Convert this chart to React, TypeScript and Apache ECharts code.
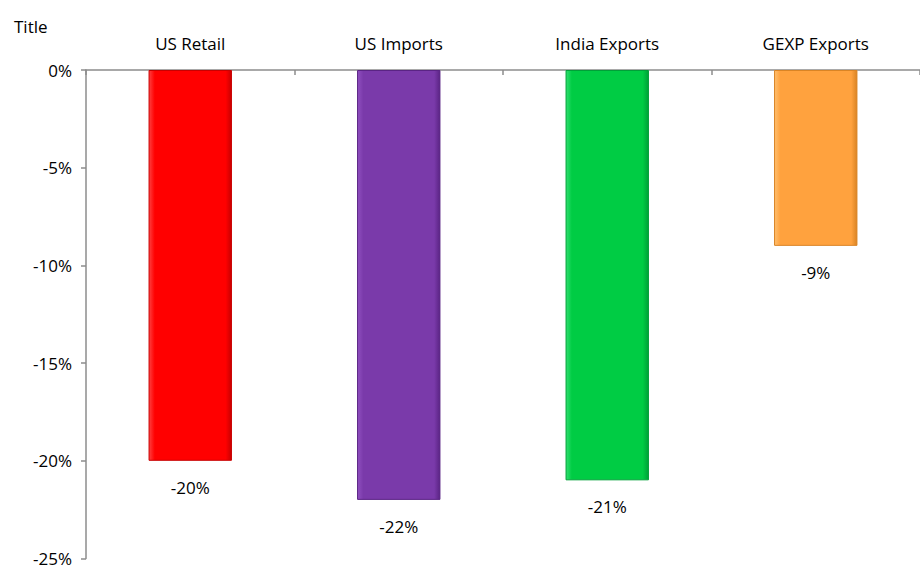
import React, { useEffect, useRef } from "react";
import * as echarts from "echarts";

const categories = ["US Retail", "US Imports", "India Exports", "GEXP Exports"];
const values = [-20, -22, -21, -9];
const barColors = [
  ["#FF4040", "#FF0000", "#C80000"],
  ["#9050C0", "#7A3AAA", "#5A2484"],
  ["#30E070", "#00CC44", "#00A038"],
  ["#FFC070", "#FFA23E", "#DA8424"],
];
const yMin = -25;
const yMax = 0;
const yStep = 5;

const FONT = "'Open Sans', 'Noto Sans', sans-serif";
const FS = 17;

export default function App() {
  const ref = useRef<HTMLDivElement>(null);
  useEffect(() => {
    if (!ref.current) return;
    const chart = echarts.init(ref.current, undefined, { renderer: "svg" });
    chart.setOption({
      animation: false,
      title: {
        text: "Title",
        left: 9,
        top: 13,
        textStyle: { fontFamily: FONT, fontSize: FS, fontWeight: "normal", color: "#000" },
      },
      grid: { left: 86, right: -7, top: 70, bottom: 6, containLabel: false },
      xAxis: {
        type: "category",
        position: "top",
        data: categories,
        axisLine: { onZero: false, lineStyle: { color: "#8C8C8C", width: 1.5 } },
        axisTick: { show: true, inside: true, length: 5, lineStyle: { color: "#8C8C8C", width: 1.5 } },
        axisLabel: { margin: 18, color: "#000", fontFamily: FONT, fontSize: FS },
      },
      yAxis: {
        type: "value",
        min: yMin,
        max: yMax,
        interval: yStep,
        splitLine: { show: false },
        axisLine: { show: true, lineStyle: { color: "#8C8C8C", width: 1.5 } },
        axisTick: { show: true, length: 5, lineStyle: { color: "#8C8C8C", width: 1.5 } },
        axisLabel: {
          margin: 14,
          color: "#000",
          fontFamily: FONT,
          fontSize: FS,
          formatter: (v: number) => `${v}%`,
        },
      },
      series: [
        {
          type: "bar",
          barWidth: "40%",
          data: values.map((v, i) => ({
            value: v,
            itemStyle: {
              color: new echarts.graphic.LinearGradient(1, 0, 0, 0, [
                { offset: 0, color: barColors[i][2] },
                { offset: 0.07, color: barColors[i][1] },
                { offset: 0.93, color: barColors[i][1] },
                { offset: 1, color: barColors[i][0] },
              ]),
              borderColor: barColors[i][2],
              borderWidth: 1,
            },
          })),
          label: {
            show: true,
            position: "bottom",
            distance: 18,
            color: "#000",
            fontFamily: FONT,
            fontSize: FS,
            formatter: (p: any) => `${p.value}%`,
          },
        },
      ],
    });
    return () => chart.dispose();
  }, []);
  return <div ref={ref} style={{ width: 920, height: 567, position: "absolute", left: 0, top: 0 }} />;
}
